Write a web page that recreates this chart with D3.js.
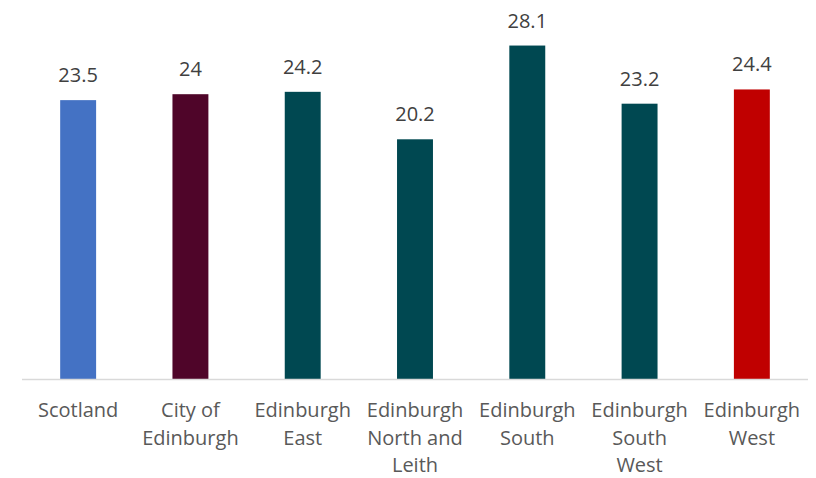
<!DOCTYPE html>
<html>
<head>
<meta charset="utf-8">
<script src="https://cdn.jsdelivr.net/npm/d3@7"></script>
<style>
  body { margin: 0; background: #fff; }
  text { font-family: "Open Sans", sans-serif; }
</style>
</head>
<body>
<div id="container"></div>
<script>
const areas = ['Scotland', 'City of Edinburgh', 'Edinburgh East', 'Edinburgh North and Leith',
  'Edinburgh South', 'Edinburgh South West', 'Edinburgh West'];
const areaLines = [['Scotland'], ['City of', 'Edinburgh'], ['Edinburgh', 'East'],
  ['Edinburgh', 'North and', 'Leith'], ['Edinburgh', 'South'], ['Edinburgh', 'South', 'West'],
  ['Edinburgh', 'West']];
const values = [23.5, 24, 24.2, 20.2, 28.1, 23.2, 24.4];
const colors = ['#4472c4', '#4f0529', '#004851', '#004851', '#004851', '#004851', '#c00000'];

const width = 816;
const height = 478;
const baseY = 379;

const svg = d3.select('#container').append('svg')
  .attr('width', width)
  .attr('height', height);

const x = d3.scaleBand()
  .domain(areas)
  .range([22, 808])
  .paddingInner(0.68)
  .paddingOuter(0.34);

const y = d3.scaleLinear()
  .domain([0, 30])
  .range([baseY, 23]);

svg.append('g')
  .selectAll('rect')
  .data(areas)
  .join('rect')
  .attr('x', d => x(d))
  .attr('width', x.bandwidth())
  .attr('y', (d, i) => y(values[i]))
  .attr('height', (d, i) => baseY - y(values[i]))
  .attr('fill', (d, i) => colors[i]);

svg.append('line')
  .attr('x1', 22)
  .attr('x2', 808)
  .attr('y1', baseY + 0.5)
  .attr('y2', baseY + 0.5)
  .attr('stroke', '#d9d9d9')
  .attr('stroke-width', 1.5);

// value labels
svg.append('g')
  .selectAll('text')
  .data(areas)
  .join('text')
  .attr('x', d => x(d) + x.bandwidth() / 2)
  .attr('y', (d, i) => y(values[i]) - 18)
  .attr('text-anchor', 'middle')
  .attr('font-size', 20)
  .attr('fill', '#404040')
  .text((d, i) => values[i]);

// category labels
const cat = svg.append('g')
  .selectAll('text')
  .data(areas)
  .join('text')
  .attr('text-anchor', 'middle')
  .attr('font-size', 20)
  .attr('fill', '#595959');

cat.selectAll('tspan')
  .data((d, i) => areaLines[i].map(t => ({t, d})))
  .join('tspan')
  .attr('x', o => x(o.d) + x.bandwidth() / 2)
  .attr('y', (o, j) => 417 + j * 27.5)
  .text(o => o.t);
</script>
</body>
</html>
